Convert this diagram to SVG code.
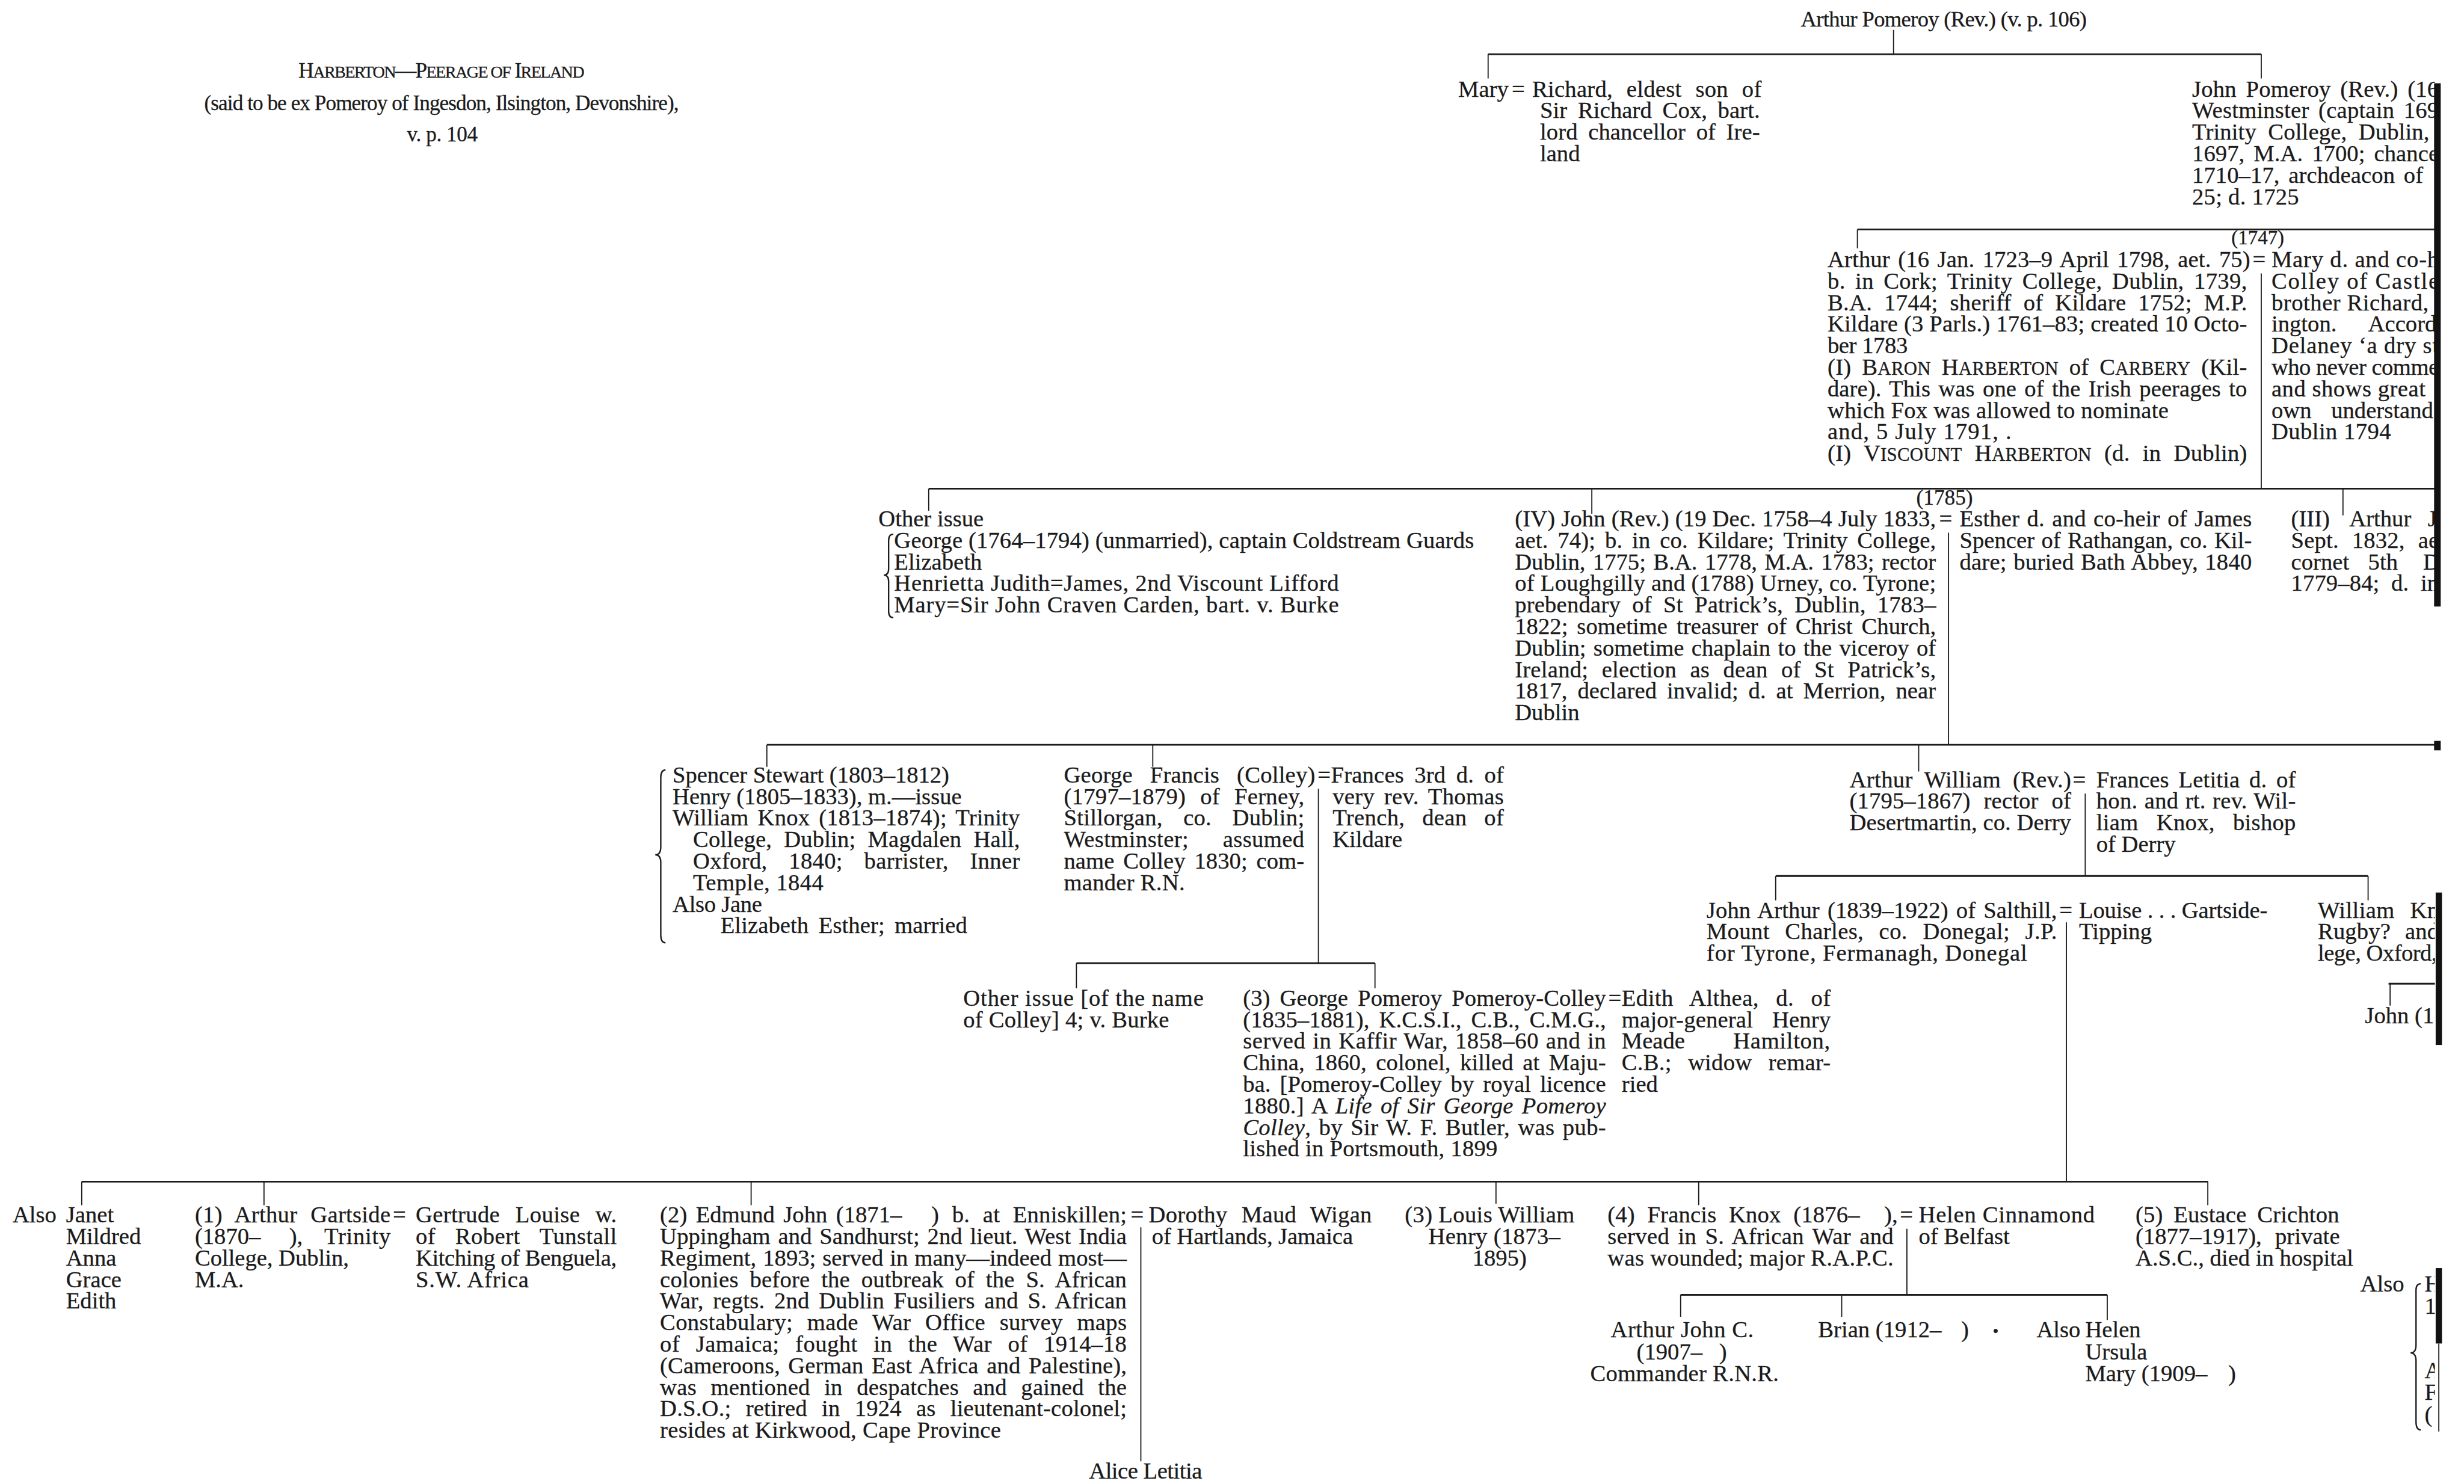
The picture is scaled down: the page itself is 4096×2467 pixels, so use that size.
<svg xmlns="http://www.w3.org/2000/svg" width="4096" height="2467" viewBox="0 0 4096 2467">
<defs>
<style>
.t{font-family:"Liberation Serif","Times New Roman",serif;font-size:14.8px;fill:#1b1b1b;stroke:#1b1b1b;stroke-width:0.12}
.s{font-size:11.8px}
.i{font-style:italic}
.h{stroke:#1b1b1b;stroke-width:1.1;fill:none}
.v{stroke:#1b1b1b;stroke-width:0.7;fill:none}
.b{stroke:#1b1b1b;stroke-width:0.9;fill:none}
.bar{fill:#111}
</style>
<clipPath id="pg"><rect x="-10" y="-10" width="1559.5" height="960"/></clipPath>
</defs>
<rect width="4096" height="2467" fill="#fff"/>
<g transform="scale(2.6122)">
<g clip-path="url(#pg)">
<g id="connectors">
<path class="h" d="M947 34.5H1439 M1182 146H1550 M591 311H1550 M488 474H1550 M1130 557.5H1507 M685 613H875 M1520 626H1550 M52 752H1405 M1069.5 824H1341"/>
<path class="v" d="M1205 19V34.5 M947 34.5V50 M1439 34.5V50 M1182 146V158 M1439 174V311 M591 311V325 M1013 311V327 M1491 311V328 M1240 339V474 M488 474V488 M733.6 474V488 M1221 474V491 M839 502V613 M1327 505V557.5 M1130 557.5V573 M1507 557.5V573 M685 613V629 M875 613V629 M1521 626V640 M1315 587V752 M52 752V767 M168 752V767 M478 752V767 M952 752V766 M1081 752V767 M1405 752V767 M726 781V930 M1213.5 782V824 M1069.5 824V838 M1172 824V838 M1341 824V840"/>
<path class="b" d="M568.5 340 Q565.5 340 565.5 344 V362 Q565.5 366 562.5 366 Q565.5 366 565.5 370 V389 Q565.5 393 568.5 393"/>
<path class="b" d="M423.5 490 Q420.5 490 420.5 495 V539 Q420.5 544 417 544 Q420.5 544 420.5 549 V595 Q420.5 600 423.5 600"/>
<path class="b" d="M1540.5 817 Q1537.5 817 1537.5 821 V856 Q1537.5 861 1534 861 Q1537.5 861 1537.5 866 V905 Q1537.5 910 1540.5 910"/>
<circle cx="1270" cy="847" r="1.3" fill="#1b1b1b"/>
</g>

<g id="title">
<text class="t" x="190" y="49.5" textLength="182" style="font-size:13.5px">H<tspan style="font-size:10.8px">ARBERTON</tspan>—P<tspan style="font-size:10.8px">EERAGE OF</tspan> I<tspan style="font-size:10.8px">RELAND</tspan></text>
<text class="t" x="130" y="70" textLength="302" style="font-size:13.5px">(said to be ex Pomeroy of Ingesdon, Ilsington, Devonshire),</text>
<text class="t" x="259" y="90" textLength="45" style="font-size:13.5px">v. p. 104</text>
</g>

<g id="arthur-pomeroy">
<text class="t" x="1146" y="17" textLength="182" style="font-size:14px">Arthur Pomeroy (Rev.) (v. p. 106)</text>
</g>

<g id="mary-richard">
<text class="t" x="928" y="61.5">Mary</text>
<text class="t" x="962" y="61.5">=</text>
<text class="t" x="975" y="61.5" textLength="146" style="word-spacing:5px">Richard, eldest son of</text>
<text class="t" x="980" y="75.2" textLength="140" style="word-spacing:3px">Sir Richard Cox, bart.</text>
<text class="t" x="980" y="88.9" textLength="140" style="word-spacing:3px">lord chancellor of Ire-</text>
<text class="t" x="980" y="102.6">land</text>
</g>

<g id="john-pomeroy">
<text class="t" x="1395" y="61.5" textLength="157" style="word-spacing:2.2px">John Pomeroy (Rev.) (16</text>
<text class="t" x="1395" y="75.2" textLength="157" style="word-spacing:2.2px">Westminster (captain 169</text>
<text class="t" x="1395" y="88.9" textLength="151" style="word-spacing:3.7px">Trinity College, Dublin,</text>
<text class="t" x="1395" y="102.6" textLength="157" style="word-spacing:2px">1697, M.A. 1700; chance</text>
<text class="t" x="1395" y="116.3" textLength="147" style="word-spacing:1.9px">1710–17, archdeacon of</text>
<text class="t" x="1395" y="130" textLength="68">25; d. 1725</text>
</g>

<g id="arthur-1723">
<text class="t" x="1163" y="170" textLength="269" style="word-spacing:1.4px">Arthur (16 Jan. 1723–9 April 1798, aet. 75)</text>
<text class="t" x="1163" y="183.7" textLength="267" style="word-spacing:2.4px">b. in Cork; Trinity College, Dublin, 1739,</text>
<text class="t" x="1163" y="197.4" textLength="267" style="word-spacing:3.8px">B.A. 1744; sheriff of Kildare 1752; M.P.</text>
<text class="t" x="1163" y="211.1" textLength="267">Kildare (3 Parls.) 1761–83; created 10 Octo-</text>
<text class="t" x="1163" y="224.8" textLength="51">ber 1783</text>
<text class="t" x="1163" y="238.5" textLength="267" style="word-spacing:3px">(I) B<tspan class="s">ARON</tspan> H<tspan class="s">ARBERTON</tspan> of C<tspan class="s">ARBERY</tspan> (Kil-</text>
<text class="t" x="1163" y="252.2" textLength="267" style="word-spacing:1.4px">dare). This was one of the Irish peerages to</text>
<text class="t" x="1163" y="265.9" textLength="217">which Fox was allowed to nominate</text>
<text class="t" x="1163" y="279.6" textLength="117">and, 5 July 1791, .</text>
<text class="t" x="1163" y="293.3" textLength="267" style="word-spacing:4.3px">(I) V<tspan class="s">ISCOUNT</tspan> H<tspan class="s">ARBERTON</tspan> (d. in Dublin)</text>
</g>

<g id="marriage-1747">
<text class="t" x="1420" y="155.3" style="font-size:12.6px">(1747)</text>
<text class="t" x="1433.5" y="170">=</text>
</g>

<g id="mary-colley">
<text class="t" x="1445.5" y="170" textLength="106.5">Mary d. and co-h</text>
<text class="t" x="1445.5" y="183.7" textLength="106.5">Colley of Castle</text>
<text class="t" x="1445.5" y="197.4" textLength="100">brother Richard,</text>
<text class="t" x="1445.5" y="211.1">ington.</text>
<text class="t" x="1507" y="211.1">Accord</text>
<text class="t" x="1445.5" y="224.8" textLength="106.5">Delaney ‘a dry st</text>
<text class="t" x="1445.5" y="238.5" textLength="106.5">who never comme</text>
<text class="t" x="1445.5" y="252.2" textLength="98">and shows great</text>
<text class="t" x="1445.5" y="265.9">own</text>
<text class="t" x="1483.5" y="265.9">understand</text>
<text class="t" x="1445.5" y="279.6" textLength="76">Dublin 1794</text>
</g>

<g id="other-issue-1">
<text class="t" x="559" y="335">Other issue</text>
<text class="t" x="569" y="348.7" textLength="369">George (1764–1794) (unmarried), captain Coldstream Guards</text>
<text class="t" x="569" y="362.4">Elizabeth</text>
<text class="t" x="569" y="376.1" textLength="283">Henrietta Judith=James, 2nd Viscount Lifford</text>
<text class="t" x="569" y="389.8" textLength="283">Mary=Sir John Craven Carden, bart. v. Burke</text>
</g>

<g id="john-iv">
<text class="t" x="964" y="335" textLength="268">(IV) John (Rev.) (19 Dec. 1758–4 July 1833,</text>
<text class="t" x="964" y="348.7" textLength="268" style="word-spacing:2.3px">aet. 74); b. in co. Kildare; Trinity College,</text>
<text class="t" x="964" y="362.4" textLength="268" style="word-spacing:1px">Dublin, 1775; B.A. 1778, M.A. 1783; rector</text>
<text class="t" x="964" y="376.1" textLength="268">of Loughgilly and (1788) Urney, co. Tyrone;</text>
<text class="t" x="964" y="389.8" textLength="268" style="word-spacing:3.6px">prebendary of St Patrick’s, Dublin, 1783–</text>
<text class="t" x="964" y="403.5" textLength="268" style="word-spacing:2px">1822; sometime treasurer of Christ Church,</text>
<text class="t" x="964" y="417.2" textLength="268" style="word-spacing:1px">Dublin; sometime chaplain to the viceroy of</text>
<text class="t" x="964" y="430.9" textLength="268" style="word-spacing:4.8px">Ireland; election as dean of St Patrick’s,</text>
<text class="t" x="964" y="444.6" textLength="268" style="word-spacing:2.7px">1817, declared invalid; d. at Merrion, near</text>
<text class="t" x="964" y="458.3">Dublin</text>
</g>

<g id="marriage-1785">
<text class="t" x="1219.5" y="321" style="font-size:13.5px">(1785)</text>
<text class="t" x="1234" y="335">=</text>
</g>

<g id="esther-spencer">
<text class="t" x="1247" y="335" textLength="186" style="word-spacing:1px">Esther d. and co-heir of James</text>
<text class="t" x="1247" y="348.7" textLength="186" style="word-spacing:0.6px">Spencer of Rathangan, co. Kil-</text>
<text class="t" x="1247" y="362.4" textLength="186" style="word-spacing:0.6px">dare; buried Bath Abbey, 1840</text>
</g>

<g id="arthur-iii">
<text class="t" x="1458" y="335">(III)</text>
<text class="t" x="1495" y="335">Arthur</text>
<text class="t" x="1545" y="335">J</text>
<text class="t" x="1458" y="348.7" textLength="94" style="word-spacing:4.7px">Sept. 1832, ae</text>
<text class="t" x="1458" y="362.4">cornet</text>
<text class="t" x="1507" y="362.4">5th</text>
<text class="t" x="1542" y="362.4">D</text>
<text class="t" x="1458" y="376.1" textLength="94" style="word-spacing:3.8px">1779–84; d. in</text>
</g>

<g id="spencer-siblings">
<text class="t" x="428" y="498" textLength="176">Spencer Stewart (1803–1812)</text>
<text class="t" x="428" y="511.7" textLength="184">Henry (1805–1833), m.—issue</text>
<text class="t" x="428" y="525.4" textLength="221" style="word-spacing:2px">William Knox (1813–1874); Trinity</text>
<text class="t" x="441" y="539.1" textLength="208" style="word-spacing:4px">College, Dublin; Magdalen Hall,</text>
<text class="t" x="441" y="552.8" textLength="208" style="word-spacing:9.8px">Oxford, 1840; barrister, Inner</text>
<text class="t" x="441" y="566.5" textLength="83">Temple, 1844</text>
<text class="t" x="428" y="580.2" textLength="57">Also Jane</text>
<text class="t" x="458.5" y="593.9" textLength="157" style="word-spacing:2.6px">Elizabeth Esther; married</text>
</g>

<g id="george-francis">
<text class="t" x="677" y="498" textLength="160" style="word-spacing:7.3px">George Francis (Colley)</text>
<text class="t" x="838.5" y="498">=</text>
<text class="t" x="677" y="511.7" textLength="153" style="word-spacing:5.4px">(1797–1879) of Ferney,</text>
<text class="t" x="677" y="525.4" textLength="153" style="word-spacing:9.4px">Stillorgan, co. Dublin;</text>
<text class="t" x="677" y="539.1" textLength="153" style="word-spacing:17.8px">Westminster; assumed</text>
<text class="t" x="677" y="552.8" textLength="153" style="word-spacing:1.9px">name Colley 1830; com-</text>
<text class="t" x="677" y="566.5" textLength="77">mander R.N.</text>
</g>

<g id="frances-trench">
<text class="t" x="847" y="498" textLength="110" style="word-spacing:2.9px">Frances 3rd d. of</text>
<text class="t" x="848" y="511.7" textLength="109" style="word-spacing:2.2px">very rev. Thomas</text>
<text class="t" x="848" y="525.4" textLength="109" style="word-spacing:7.2px">Trench, dean of</text>
<text class="t" x="848" y="539.1">Kildare</text>
</g>

<g id="arthur-william">
<text class="t" x="1177" y="501" textLength="141" style="word-spacing:3.7px">Arthur William (Rev.)</text>
<text class="t" x="1319" y="501">=</text>
<text class="t" x="1177" y="514.7" textLength="141" style="word-spacing:4.7px">(1795–1867) rector of</text>
<text class="t" x="1177" y="528.4" textLength="141">Desertmartin, co. Derry</text>
</g>

<g id="frances-letitia">
<text class="t" x="1334" y="501" textLength="127" style="word-spacing:2.3px">Frances Letitia d. of</text>
<text class="t" x="1334" y="514.7" textLength="127" style="word-spacing:0.5px">hon. and rt. rev. Wil-</text>
<text class="t" x="1334" y="528.4" textLength="127" style="word-spacing:7.8px">liam Knox, bishop</text>
<text class="t" x="1334" y="542.1">of Derry</text>
</g>

<g id="john-arthur">
<text class="t" x="1086" y="584" textLength="223" style="word-spacing:1.3px">John Arthur (1839–1922) of Salthill,</text>
<text class="t" x="1310.5" y="584">=</text>
<text class="t" x="1086" y="597.7" textLength="223" style="word-spacing:5.9px">Mount Charles, co. Donegal; J.P.</text>
<text class="t" x="1086" y="611.4" textLength="204">for Tyrone, Fermanagh, Donegal</text>
</g>

<g id="louise-gartside">
<text class="t" x="1323" y="584" textLength="120">Louise . . . Gartside-</text>
<text class="t" x="1323" y="597.7">Tipping</text>
</g>

<g id="william-knox">
<text class="t" x="1475" y="584" textLength="77" style="word-spacing:6px">William Kn</text>
<text class="t" x="1475" y="597.7" textLength="77" style="word-spacing:5.5px">Rugby? and</text>
<text class="t" x="1475" y="611.4" textLength="76">lege, Oxford,</text>
</g>

<g id="john-right">
<text class="t" x="1505" y="651">John (1</text>
</g>

<g id="other-issue-colley">
<text class="t" x="613" y="640" textLength="153">Other issue [of the name</text>
<text class="t" x="613" y="653.7" textLength="131">of Colley] 4; v. Burke</text>
</g>

<g id="george-pomeroy-colley">
<text class="t" x="791" y="640" textLength="231" style="word-spacing:2.4px">(3) George Pomeroy Pomeroy-Colley</text>
<text class="t" x="1023.5" y="640">=</text>
<text class="t" x="791" y="653.7" textLength="231" style="word-spacing:2.4px">(1835–1881), K.C.S.I., C.B., C.M.G.,</text>
<text class="t" x="791" y="667.4" textLength="231" style="word-spacing:0.6px">served in Kaffir War, 1858–60 and in</text>
<text class="t" x="791" y="681.1" textLength="231" style="word-spacing:2.2px">China, 1860, colonel, killed at Maju-</text>
<text class="t" x="791" y="694.8" textLength="231" style="word-spacing:2px">ba. [Pomeroy-Colley by royal licence</text>
<text class="t" x="791" y="708.5" textLength="231" style="word-spacing:1.5px">1880.] A <tspan class="i">Life of Sir George Pomeroy</tspan></text>
<text class="t" x="791" y="722.2" textLength="231" style="word-spacing:1.3px"><tspan class="i">Colley</tspan>, by Sir W. F. Butler, was pub-</text>
<text class="t" x="791" y="735.9" textLength="162">lished in Portsmouth, 1899</text>
</g>

<g id="edith-althea">
<text class="t" x="1032" y="640" textLength="133" style="word-spacing:7px">Edith Althea, d. of</text>
<text class="t" x="1032" y="653.7" textLength="133" style="word-spacing:8.4px">major-general Henry</text>
<text class="t" x="1032" y="667.4">Meade</text>
<text class="t" x="1103" y="667.4" textLength="61.6">Hamilton,</text>
<text class="t" x="1032" y="681.1" textLength="133" style="word-spacing:6.6px">C.B.; widow remar-</text>
<text class="t" x="1032" y="694.8">ried</text>
</g>

<g id="daughters-left">
<text class="t" x="8" y="778">Also</text>
<text class="t" x="42" y="778">Janet</text>
<text class="t" x="42" y="791.7">Mildred</text>
<text class="t" x="42" y="805.4">Anna</text>
<text class="t" x="42" y="819.1">Grace</text>
<text class="t" x="42" y="832.8">Edith</text>
</g>

<g id="arthur-gartside">
<text class="t" x="124" y="778" textLength="124.5" style="word-spacing:4.6px">(1) Arthur Gartside</text>
<text class="t" x="250" y="778">=</text>
<text class="t" x="124" y="791.7">(1870–</text>
<text class="t" x="184" y="791.7">),</text>
<text class="t" x="206.3" y="791.7" textLength="42.3">Trinity</text>
<text class="t" x="124" y="805.4" textLength="98">College, Dublin,</text>
<text class="t" x="124" y="819.1">M.A.</text>
</g>

<g id="gertrude-louise">
<text class="t" x="264.5" y="778" textLength="128" style="word-spacing:6px">Gertrude Louise w.</text>
<text class="t" x="264.5" y="791.7" textLength="128" style="word-spacing:8.7px">of Robert Tunstall</text>
<text class="t" x="264.5" y="805.4" textLength="128">Kitching of Benguela,</text>
<text class="t" x="264.5" y="819.1" textLength="72">S.W. Africa</text>
</g>

<g id="edmund-john">
<text class="t" x="420" y="778" textLength="154" style="word-spacing:1.8px">(2) Edmund John (1871–</text>
<text class="t" x="592.6" y="778" textLength="124.4" style="word-spacing:4.5px">) b. at Enniskillen;</text>
<text class="t" x="719.5" y="778">=</text>
<text class="t" x="420" y="791.7" textLength="297" style="word-spacing:1.1px">Uppingham and Sandhurst; 2nd lieut. West India</text>
<text class="t" x="420" y="805.4" textLength="297" style="word-spacing:0.5px">Regiment, 1893; served in many—indeed most—</text>
<text class="t" x="420" y="819.1" textLength="297" style="word-spacing:3.4px">colonies before the outbreak of the S. African</text>
<text class="t" x="420" y="832.8" textLength="297" style="word-spacing:2.2px">War, regts. 2nd Dublin Fusiliers and S. African</text>
<text class="t" x="420" y="846.5" textLength="297" style="word-spacing:5.3px">Constabulary; made War Office survey maps</text>
<text class="t" x="420" y="860.2" textLength="297" style="word-spacing:6.3px">of Jamaica; fought in the War of 1914–18</text>
<text class="t" x="420" y="873.9" textLength="297" style="word-spacing:1.5px">(Cameroons, German East Africa and Palestine),</text>
<text class="t" x="420" y="887.6" textLength="297" style="word-spacing:5.2px">was mentioned in despatches and gained the</text>
<text class="t" x="420" y="901.3" textLength="297" style="word-spacing:5.5px">D.S.O.; retired in 1924 as lieutenant-colonel;</text>
<text class="t" x="420" y="915" textLength="217">resides at Kirkwood, Cape Province</text>
</g>

<g id="dorothy-wigan">
<text class="t" x="731" y="778" textLength="142" style="word-spacing:5.1px">Dorothy Maud Wigan</text>
<text class="t" x="733" y="791.7" textLength="128">of Hartlands, Jamaica</text>
</g>

<g id="alice-letitia">
<text class="t" x="693" y="941" textLength="72">Alice Letitia</text>
</g>

<g id="louis-william">
<text class="t" x="894" y="778" textLength="108">(3) Louis William</text>
<text class="t" x="909" y="791.7" textLength="84">Henry (1873–</text>
<text class="t" x="937" y="805.4">1895)</text>
</g>

<g id="francis-knox">
<text class="t" x="1023" y="778" textLength="160.5" style="word-spacing:4.1px">(4) Francis Knox (1876–</text>
<text class="t" x="1199" y="778">),</text>
<text class="t" x="1209" y="778">=</text>
<text class="t" x="1023" y="791.7" textLength="182" style="word-spacing:1.7px">served in S. African War and</text>
<text class="t" x="1023" y="805.4" textLength="182">was wounded; major R.A.P.C.</text>
</g>

<g id="helen-cinnamond">
<text class="t" x="1221" y="778" textLength="112">Helen Cinnamond</text>
<text class="t" x="1221" y="791.7">of Belfast</text>
</g>

<g id="arthur-john-c">
<text class="t" x="1025" y="851" textLength="91">Arthur John C.</text>
<text class="t" x="1041.5" y="865">(1907–</text>
<text class="t" x="1094" y="865">)</text>
<text class="t" x="1012" y="879" textLength="120">Commander R.N.R.</text>
</g>

<g id="brian">
<text class="t" x="1157" y="851">Brian (1912–</text>
<text class="t" x="1248" y="851">)</text>
</g>

<g id="daughters-knox">
<text class="t" x="1296" y="851">Also</text>
<text class="t" x="1327" y="851">Helen</text>
<text class="t" x="1327" y="865">Ursula</text>
<text class="t" x="1327" y="879">Mary (1909–</text>
<text class="t" x="1418" y="879">)</text>
</g>

<g id="eustace-crichton">
<text class="t" x="1359" y="778" textLength="129.6" style="word-spacing:3.1px">(5) Eustace Crichton</text>
<text class="t" x="1359" y="791.7" textLength="130" style="word-spacing:4.8px">(1877–1917), private</text>
<text class="t" x="1359" y="805.4" textLength="138.6">A.S.C., died in hospital</text>
</g>

<g id="also-right">
<text class="t" x="1502" y="822">Also</text>
<text class="t" x="1543" y="822">H</text>
<text class="t" x="1543" y="836">18</text>
<text class="t" x="1543" y="877">A</text>
<text class="t" x="1543" y="891">F</text>
<text class="t" x="1543" y="905">(</text>
</g>
</g>

<g id="page-edge">
<rect class="bar" x="1549" y="53" width="4.2" height="333"/>
<rect class="bar" x="1549" y="471.5" width="4.2" height="6"/>
<rect class="bar" x="1550" y="568" width="4" height="97"/>
<rect class="bar" x="1550" y="807" width="4" height="48"/>
<path class="v" d="M1552 855V911"/>
</g>
</g>
</svg>
